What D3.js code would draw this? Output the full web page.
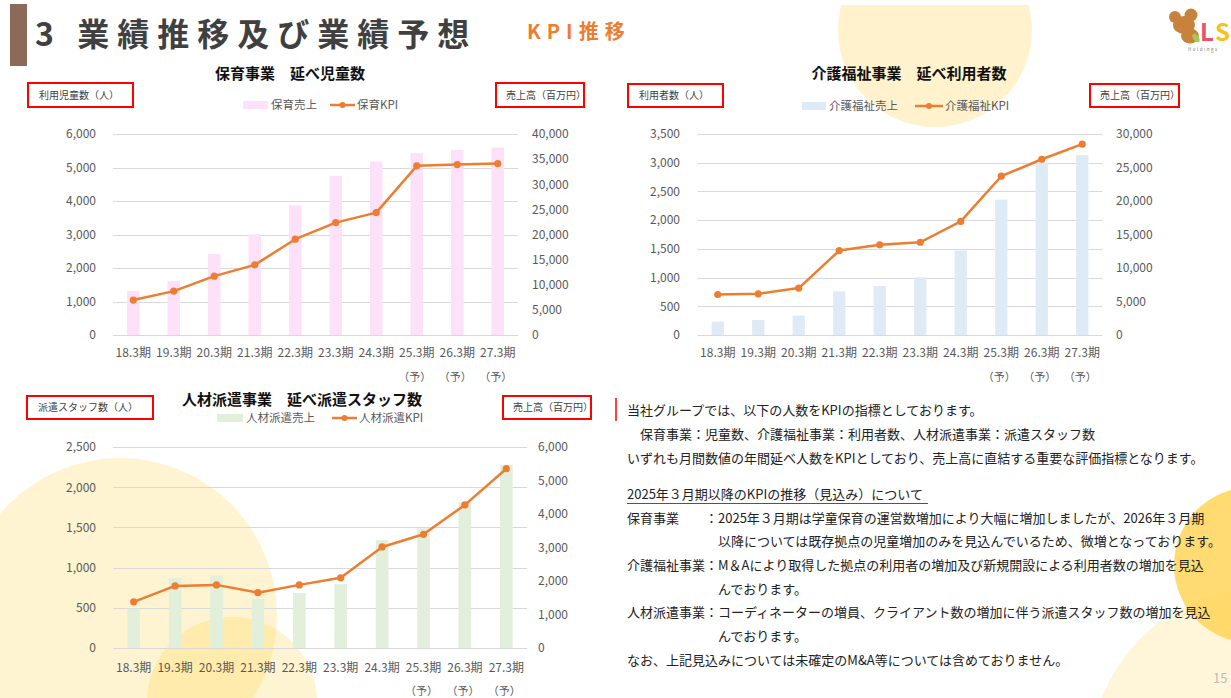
<!DOCTYPE html>
<html><head><meta charset="utf-8">
<script src="https://cdn.jsdelivr.net/npm/d3@7"></script>
<style>
body{margin:0;background:#fff}
svg{display:block}
text{font-family:"Noto Sans CJK JP","Noto Sans",sans-serif}
</style>
</head><body>
<svg id="c" width="1231" height="698"></svg>
<script>
// ---------- DATA ----------
const categories = ["18.3期","19.3期","20.3期","21.3期","22.3期","23.3期","24.3期","25.3期","26.3期","27.3期"];
const forecastLabels = ["","","","","","","","（予）","（予）","（予）"];

const hoikuSales = [8740,10720,16150,20050,25800,31650,34500,36200,36800,37300];
const hoikuKPI   = [1042,1310,1757,2094,2860,3355,3653,5049,5087,5117];
const hoikuLeftTicks  = [0,1000,2000,3000,4000,5000,6000];
const hoikuRightTicks = [0,5000,10000,15000,20000,25000,30000,35000,40000];

const kaigoSales = [2000,2250,2900,6500,7300,8600,12600,20200,25700,26850];
const kaigoKPI   = [705,717,817,1470,1570,1615,1978,2765,3060,3325];
const kaigoLeftTicks  = [0,500,1000,1500,2000,2500,3000,3500];
const kaigoRightTicks = [0,5000,10000,15000,20000,25000,30000];

const jinzaiSales = [1175,2085,2165,1470,1640,1905,3220,3575,4350,5470];
const jinzaiKPI   = [574,772,785,688,785,873,1257,1414,1780,2230];
const jinzaiLeftTicks  = [0,500,1000,1500,2000,2500];
const jinzaiRightTicks = [0,1000,2000,3000,4000,5000,6000];

const textLines = [
  "当社グループでは、以下の人数をKPIの指標としております。",
  "　保育事業：児童数、介護福祉事業：利用者数、人材派遣事業：派遣スタッフ数",
  "いずれも月間数値の年間延べ人数をKPIとしており、売上高に直結する重要な評価指標となります。"
];
const outlookTitle = "2025年３月期以降のKPIの推移（見込み）について";
const outlookItems = [
  {label:"保育事業", lines:["：2025年３月期は学童保育の運営数増加により大幅に増加しましたが、2026年３月期","以降については既存拠点の児童増加のみを見込んでいるため、微増となっております。"]},
  {label:"介護福祉事業", lines:["：M＆Aにより取得した拠点の利用者の増加及び新規開設による利用者数の増加を見込","んでおります。"]},
  {label:"人材派遣事業", lines:["：コーディネーターの増員、クライアント数の増加に伴う派遣スタッフ数の増加を見込","んでおります。"]}
];
const closingLine = "なお、上記見込みについては未確定のM&A等については含めておりません。";

// ---------- DRAW ----------
const svg = d3.select("#c");
const ORANGE = "#ed7d31", GRID = "#d9d9d9", TICK = "#595959";

// background decoration
const deco = svg.append("g");
deco.append("circle").attr("cx",935).attr("cy",30).attr("r",97).attr("fill","#fff2cc");
deco.append("rect").attr("x",820).attr("y",0).attr("width",230).attr("height",5).attr("fill","#fff");
deco.append("circle").attr("cx",120).attr("cy",615).attr("r",157).attr("fill","#ffc000").attr("fill-opacity",0.18);
deco.append("circle").attr("cx",232).attr("cy",702).attr("r",85).attr("fill","#ffc000").attr("fill-opacity",0.18);
deco.append("circle").attr("cx",1262).attr("cy",760).attr("r",172).attr("fill","#ffc000").attr("fill-opacity",0.15);
deco.append("circle").attr("cx",1252).attr("cy",565).attr("r",78).attr("fill","#ffd24d").attr("fill-opacity",0.8);

// header
svg.append("rect").attr("x",10).attr("y",4).attr("width",17).attr("height",62).attr("fill","#8b6b57");
svg.append("text").attr("x",35).attr("y",46).attr("font-size",32).attr("font-weight","bold")
  .attr("fill","#404040").attr("letter-spacing","8px").text("3 業績推移及び業績予想");
svg.append("text").attr("x",527).attr("y",39).attr("font-size",20).attr("font-weight","bold")
  .attr("fill",ORANGE).attr("letter-spacing","6px").text("KPI推移");

// logo
const logo = svg.append("g");
logo.append("circle").attr("cx",1175).attr("cy",17).attr("r",6).attr("fill","#c8823c");
logo.append("circle").attr("cx",1191).attr("cy",15).attr("r",6.5).attr("fill","#c8823c");
logo.append("ellipse").attr("cx",1184).attr("cy",25).attr("rx",11).attr("ry",9).attr("fill","#c8823c");
logo.append("ellipse").attr("cx",1190).attr("cy",36).attr("rx",9).attr("ry",7.5).attr("fill","#c8823c");
logo.append("ellipse").attr("cx",1196).attr("cy",38).attr("rx",3).attr("ry",5).attr("fill","#a5c85a").attr("transform","rotate(-35,1196,38)");
logo.append("text").attr("x",1200).attr("y",41).attr("font-size",24).attr("font-weight","bold").attr("fill","#e9506a").attr("font-family","Liberation Sans").text("L");
logo.append("text").attr("x",1215).attr("y",41).attr("font-size",24).attr("font-weight","bold").attr("fill","#f7c21a").attr("font-family","Liberation Sans").text("S");
logo.append("text").attr("x",1188).attr("y",51).attr("font-size",4.5).attr("fill","#777").attr("letter-spacing","1.5px").text("Holdings");

function drawChart(cfg){
  const g = svg.append("g");
  const x = d3.scaleBand().domain(categories).range([cfg.x0,cfg.x1]).paddingInner(0).paddingOuter(0);
  const yL = d3.scaleLinear().domain([0,d3.max(cfg.leftTicks)]).range([cfg.yBot,cfg.yTop]);
  const yR = d3.scaleLinear().domain([0,d3.max(cfg.rightTicks)]).range([cfg.yBot,cfg.yTop]);
  const cx = c => x(c)+x.bandwidth()/2;

  // gridlines
  g.selectAll(".grid").data(cfg.leftTicks).join("line")
    .attr("x1",cfg.x0).attr("x2",cfg.x1)
    .attr("y1",d=>Math.round(yL(d))+0.5).attr("y2",d=>Math.round(yL(d))+0.5)
    .attr("stroke",GRID).attr("stroke-width",1);

  // bars
  g.selectAll(".bar").data(cfg.sales).join("rect")
    .attr("x",(d,i)=>cx(categories[i])-cfg.barW/2).attr("width",cfg.barW)
    .attr("y",d=>yR(d)).attr("height",d=>cfg.yBot-yR(d))
    .attr("fill",cfg.barColor);

  // line
  const line = d3.line().x((d,i)=>cx(categories[i])).y(d=>yL(d));
  g.append("path").datum(cfg.kpi).attr("d",line).attr("fill","none")
    .attr("stroke",ORANGE).attr("stroke-width",2.5).attr("stroke-linejoin","round");
  g.selectAll(".dot").data(cfg.kpi).join("circle")
    .attr("cx",(d,i)=>cx(categories[i])).attr("cy",d=>yL(d)).attr("r",3.6).attr("fill",ORANGE);

  // axes
  const fmt = d3.format(",");
  const la = g.append("g").attr("transform",`translate(${cfg.leftLabelX},0)`)
    .call(d3.axisLeft(yL).tickValues(cfg.leftTicks).tickFormat(fmt).tickSize(0).tickPadding(0));
  const ra = g.append("g").attr("transform",`translate(${cfg.rightLabelX},0)`)
    .call(d3.axisRight(yR).tickValues(cfg.rightTicks).tickFormat(fmt).tickSize(0).tickPadding(0));
  const ba = g.append("g").attr("transform",`translate(0,${cfg.xLabelY})`)
    .call(d3.axisBottom(x).tickSize(0).tickPadding(0));
  [la,ra,ba].forEach(a=>{
    a.select(".domain").remove();
    a.selectAll("text").attr("font-size",12).attr("fill",TICK)
      .attr("font-family",'"Noto Sans CJK JP","Noto Sans",sans-serif');
  });
  ba.selectAll("text").attr("y",0).attr("dy","0.35em");
  g.selectAll(".fc").data(forecastLabels).join("text")
    .attr("x",(d,i)=>cx(categories[i])-2).attr("y",cfg.xLabelY+24).attr("dy","0.35em")
    .attr("text-anchor","middle").attr("font-size",11).attr("fill",TICK).text(d=>d);

  // title
  g.append("text").attr("x",cfg.titleX).attr("y",cfg.titleY).attr("dy","0.35em")
    .attr("text-anchor","middle").attr("font-size",15).attr("font-weight","bold").attr("fill","#111")
    .text(cfg.title);

  // legend
  const ly = cfg.legendY;
  g.append("rect").attr("x",cfg.legend[0]).attr("y",ly-4).attr("width",cfg.legend[1]-cfg.legend[0]).attr("height",8).attr("fill",cfg.barColor);
  g.append("text").attr("x",cfg.legend[1]+3).attr("y",ly).attr("dy","0.35em").attr("font-size",11.5).attr("fill",TICK).text(cfg.salesName);
  g.append("line").attr("x1",cfg.legend[2]).attr("x2",cfg.legend[3]).attr("y1",ly).attr("y2",ly).attr("stroke",ORANGE).attr("stroke-width",2.5);
  g.append("circle").attr("cx",(cfg.legend[2]+cfg.legend[3])/2).attr("cy",ly).attr("r",3).attr("fill",ORANGE);
  g.append("text").attr("x",cfg.legend[3]+2).attr("y",ly).attr("dy","0.35em").attr("font-size",11.5).attr("fill",TICK).text(cfg.kpiName);

  // red boxes
  cfg.boxes.forEach(b=>{
    g.append("rect").attr("x",b.x).attr("y",b.y).attr("width",b.w).attr("height",b.h)
      .attr("fill","#fff").attr("stroke","#ff0000").attr("stroke-width",2);
    g.append("text").attr("x",b.x+b.tx).attr("y",b.y+b.h/2).attr("dy","0.35em")
      .attr("font-size",10).attr("fill","#404040").text(b.text);
  });
}

drawChart({
  x0:113, x1:518, yTop:134, yBot:335, barW:12.5, barColor:"#fde1f8",
  sales:hoikuSales, kpi:hoikuKPI, leftTicks:hoikuLeftTicks, rightTicks:hoikuRightTicks,
  leftLabelX:96, rightLabelX:532, xLabelY:353,
  title:"保育事業　延べ児童数", titleX:290, titleY:74,
  legendY:105, legend:[243,268,330,355], salesName:"保育売上", kpiName:"保育KPI",
  boxes:[{x:28,y:83,w:105,h:24,tx:11,text:"利用児童数（人）"},{x:496,y:83,w:88,h:24,tx:10,text:"売上高（百万円）"}]
});
drawChart({
  x0:697.5, x1:1102.5, yTop:134, yBot:335, barW:12.3, barColor:"#deeaf6",
  sales:kaigoSales, kpi:kaigoKPI, leftTicks:kaigoLeftTicks, rightTicks:kaigoRightTicks,
  leftLabelX:680, rightLabelX:1116, xLabelY:353,
  title:"介護福祉事業　延べ利用者数", titleX:909, titleY:74,
  legendY:106, legend:[802,826,915,943], salesName:"介護福祉売上", kpiName:"介護福祉KPI",
  boxes:[{x:628,y:84,w:95,h:23,tx:11,text:"利用者数（人）"},{x:1090,y:84,w:89,h:23,tx:10,text:"売上高（百万円）"}]
});
drawChart({
  x0:113, x1:527, yTop:447, yBot:648, barW:12.7, barColor:"#e2efda",
  sales:jinzaiSales, kpi:jinzaiKPI, leftTicks:jinzaiLeftTicks, rightTicks:jinzaiRightTicks,
  leftLabelX:96, rightLabelX:538, xLabelY:667.5,
  title:"人材派遣事業　延べ派遣スタッフ数", titleX:302, titleY:400,
  legendY:418, legend:[217,243,332,357], salesName:"人材派遣売上", kpiName:"人材派遣KPI",
  boxes:[{x:27,y:396,w:126,h:23,tx:11,text:"派遣スタッフ数（人）"},{x:503,y:396,w:88,h:23,tx:10,text:"売上高（百万円）"}]
});

// text block
const tb = svg.append("g").attr("font-size",13).attr("fill","#222");
svg.append("line").attr("x1",616).attr("x2",616).attr("y1",398).attr("y2",421).attr("stroke","#ff0000").attr("stroke-width",1.5);
const lineYs = [410,434,458];
textLines.forEach((t,i)=>tb.append("text").attr("x",627).attr("y",lineYs[i]).attr("dy","0.35em").text(t));
tb.append("text").attr("x",627).attr("y",494).attr("dy","0.35em").text(outlookTitle);
tb.append("line").attr("x1",627).attr("x2",928).attr("y1",503.5).attr("y2",503.5).attr("stroke","#555").attr("stroke-width",1);
const itemYs = [[518,541],[565,589],[612,636]];
outlookItems.forEach((it,i)=>{
  tb.append("text").attr("x",627).attr("y",itemYs[i][0]).attr("dy","0.35em").text(it.label);
  tb.append("text").attr("x",705).attr("y",itemYs[i][0]).attr("dy","0.35em").text(it.lines[0]);
  tb.append("text").attr("x",718).attr("y",itemYs[i][1]).attr("dy","0.35em").text(it.lines[1]);
});
tb.append("text").attr("x",627).attr("y",660).attr("dy","0.35em").text(closingLine);
svg.append("text").attr("x",1213).attr("y",683).attr("font-size",13).attr("fill","#bbbbbb").text("15");
</script>
</body></html>
